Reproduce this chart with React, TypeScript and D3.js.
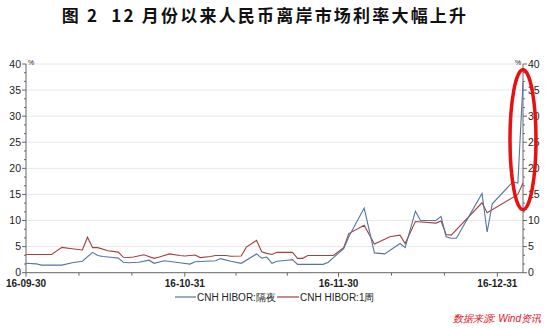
import React from 'react';
import * as d3 from 'd3';

const TITLE = '图 2  12 月份以来人民币离岸市场利率大幅上升';
const SOURCE = '数据来源: Wind资讯';
const SERIES_NAMES = ['CNH HIBOR:隔夜', 'CNH HIBOR:1周'];
const X_LABEL_DATES = ['2016-09-30', '2016-10-31', '2016-11-30', '2016-12-31'];
const X_DOMAIN = ['2016-09-30', '2017-01-05'];
const Y_TICKS = [0, 5, 10, 15, 20, 25, 30, 35, 40];

const ON_DATES = [
  '2016-09-30', '2016-10-02', '2016-10-03', '2016-10-07', '2016-10-09', '2016-10-11', '2016-10-13',
  '2016-10-14', '2016-10-15', '2016-10-17', '2016-10-18', '2016-10-19', '2016-10-20', '2016-10-22',
  '2016-10-24', '2016-10-25', '2016-10-27', '2016-10-30', '2016-11-01', '2016-11-02', '2016-11-04',
  '2016-11-06', '2016-11-07', '2016-11-09', '2016-11-11', '2016-11-14', '2016-11-15', '2016-11-16',
  '2016-11-17', '2016-11-18', '2016-11-20', '2016-11-21', '2016-11-22', '2016-11-27', '2016-11-28',
  '2016-11-29', '2016-12-01', '2016-12-02', '2016-12-05', '2016-12-07', '2016-12-09', '2016-12-12',
  '2016-12-13', '2016-12-15', '2016-12-16', '2016-12-19', '2016-12-20', '2016-12-21', '2016-12-22',
  '2016-12-23', '2016-12-28', '2016-12-29', '2016-12-30', '2017-01-03', '2017-01-04', '2017-01-05',
];
const ON_VALUES = [
  1.8, 1.7, 1.45, 1.45, 1.9, 2.2, 3.9,
  3.3, 3.1, 2.9, 2.8, 2.0, 1.9, 2.0,
  2.4, 1.8, 2.3, 1.9, 1.65, 2.1, 2.2,
  2.3, 2.7, 2.2, 1.8, 3.6, 2.8, 3.0,
  1.8, 2.2, 2.4, 2.5, 1.6, 1.6, 2.0,
  2.9, 4.6, 6.9, 12.4, 3.8, 3.6, 5.6,
  4.8, 11.8, 10.0, 10.0, 10.8, 6.9, 6.6,
  6.6, 15.2, 7.8, 13.2, 17.4, 17.2, 36.5,
];

const W1_DATES = [
  '2016-09-30', '2016-10-05', '2016-10-07', '2016-10-09', '2016-10-11', '2016-10-12', '2016-10-13',
  '2016-10-14', '2016-10-16', '2016-10-18', '2016-10-19', '2016-10-20', '2016-10-21', '2016-10-23',
  '2016-10-25', '2016-10-26', '2016-10-28', '2016-10-30', '2016-10-31', '2016-11-02', '2016-11-03',
  '2016-11-05', '2016-11-06', '2016-11-08', '2016-11-09', '2016-11-11', '2016-11-12', '2016-11-14',
  '2016-11-15', '2016-11-16', '2016-11-17', '2016-11-18', '2016-11-21', '2016-11-22', '2016-11-23',
  '2016-11-24', '2016-11-29', '2016-12-01', '2016-12-02', '2016-12-05', '2016-12-07', '2016-12-09',
  '2016-12-10', '2016-12-12', '2016-12-13', '2016-12-15', '2016-12-19', '2016-12-20', '2016-12-21',
  '2016-12-22', '2016-12-28', '2016-12-29', '2017-01-04', '2017-01-05',
];
const W1_VALUES = [
  3.5, 3.5, 4.85, 4.6, 4.35, 6.8, 4.8,
  4.8, 4.2, 3.95, 2.95, 2.9, 3.0, 3.45,
  2.75, 3.0, 3.6, 3.3, 3.2, 3.4, 2.9,
  3.1, 3.3, 3.3, 3.15, 3.2, 4.9, 6.2,
  4.0, 3.7, 3.5, 3.9, 3.9, 2.75, 2.75,
  3.3, 3.3, 4.8, 7.5, 9.1, 5.5, 6.4,
  6.9, 7.2, 5.6, 9.8, 9.5, 9.9, 7.3,
  7.2, 13.4, 11.5, 15.0, 17.2,
];

// annotation ellipse (data coords)
const HIGHLIGHT = { date: '2017-01-05', center: 25.5, halfSpan: 13.4 };

const W = 545;
const H = 328;
const LEFT = 26;
const RIGHT = 523;
const TOP = 64;
const BOTTOM = 272.7;

const BLUE = '#52769e';
const RED = '#a0413f';
const AXIS = '#666';
const FONT = '"Liberation Sans", Arial, sans-serif';
const CJK = '"Noto Sans CJK SC", sans-serif';

export default function App() {
  const parse = d3.timeParse('%Y-%m-%d');
  const x = d3.scaleTime().domain(X_DOMAIN.map((d) => parse(d) as Date)).range([LEFT, RIGHT]);
  const y = d3.scaleLinear().domain([0, 40]).range([BOTTOM, TOP]);

  const line = d3
    .line<[Date, number]>()
    .x((d) => x(d[0]))
    .y((d) => y(d[1]));

  const onData: [Date, number][] = ON_DATES.map((d, i) => [parse(d) as Date, ON_VALUES[i]]);
  const w1Data: [Date, number][] = W1_DATES.map((d, i) => [parse(d) as Date, W1_VALUES[i]]);

  const labelDates = X_LABEL_DATES.map((d) => parse(d) as Date);
  const minorX: Date[] = [];
  for (let i = 0; i < labelDates.length - 1; i++) {
    const a = labelDates[i].getTime();
    const b = labelDates[i + 1].getTime();
    minorX.push(new Date(a + (b - a) / 3), new Date(a + (2 * (b - a)) / 3));
  }
  const minorY: number[] = [];
  for (let i = 0; i < Y_TICKS.length - 1; i++) {
    const a = Y_TICKS[i];
    const b = Y_TICKS[i + 1];
    minorY.push(a + (b - a) / 3, a + (2 * (b - a)) / 3);
  }
  const fmt = d3.timeFormat('%y-%m-%d');

  const hx = x(parse(HIGHLIGHT.date) as Date);
  const hy = y(HIGHLIGHT.center);
  const hry = y(0) - y(HIGHLIGHT.halfSpan);

  return (
    <svg width={W} height={H} style={{ position: 'absolute', left: 0, top: 0, background: '#fff' }}>
      <rect x={0} y={0} width={W} height={H} fill="#fff" />
      <text
        x={265}
        y={22}
        textAnchor="middle"
        fontFamily={CJK}
        fontWeight="bold"
        fontSize={17}
        letterSpacing={2.2}
        fill="#111"
        style={{ whiteSpace: 'pre' }}
      >
        {TITLE}
      </text>

      {/* grid */}
      {Y_TICKS.filter((t) => t > 0).map((t) => (
        <line key={'g' + t} x1={LEFT} x2={RIGHT} y1={y(t)} y2={y(t)} stroke="#e8e8e8" strokeWidth={1} />
      ))}

      {/* left axis */}
      <line x1={LEFT} x2={LEFT} y1={TOP} y2={BOTTOM} stroke={AXIS} />
      {Y_TICKS.map((t) => (
        <g key={'l' + t}>
          <line x1={LEFT - 4} x2={LEFT} y1={y(t)} y2={y(t)} stroke={AXIS} />
          <text x={LEFT - 5} y={y(t) + 3.5} textAnchor="end" fontFamily={FONT} fontSize={10.5} fill="#222">
            {t}
          </text>
        </g>
      ))}
      {minorY.map((t, i) => (
        <line key={'lm' + i} x1={LEFT - 2} x2={LEFT} y1={y(t)} y2={y(t)} stroke={AXIS} />
      ))}
      <text x={LEFT + 2} y={TOP + 1} fontFamily={FONT} fontSize={7} fill="#222">%</text>

      {/* right axis */}
      <line x1={RIGHT} x2={RIGHT} y1={TOP} y2={BOTTOM} stroke={AXIS} />
      {Y_TICKS.map((t) => (
        <g key={'r' + t}>
          <line x1={RIGHT} x2={RIGHT + 4} y1={y(t)} y2={y(t)} stroke={AXIS} />
          <text x={RIGHT + 5} y={y(t) + 3.5} textAnchor="start" fontFamily={FONT} fontSize={10.5} fill="#222">
            {t}
          </text>
        </g>
      ))}
      {minorY.map((t, i) => (
        <line key={'rm' + i} x1={RIGHT} x2={RIGHT + 2} y1={y(t)} y2={y(t)} stroke={AXIS} />
      ))}
      <text x={RIGHT - 8} y={TOP + 1} fontFamily={FONT} fontSize={7} fill="#222">%</text>

      {/* x axis */}
      <line x1={LEFT} x2={RIGHT} y1={BOTTOM} y2={BOTTOM} stroke={AXIS} />
      {labelDates.map((d, i) => (
        <g key={'x' + i}>
          <line x1={x(d)} x2={x(d)} y1={BOTTOM} y2={BOTTOM + 4} stroke={AXIS} />
          <text x={x(d)} y={BOTTOM + 14} textAnchor="middle" fontFamily={FONT} fontWeight="bold" fontSize={10} fill="#222">
            {fmt(d)}
          </text>
        </g>
      ))}
      {minorX.map((d, i) => (
        <line key={'xm' + i} x1={x(d)} x2={x(d)} y1={BOTTOM} y2={BOTTOM + 3} stroke={AXIS} />
      ))}

      {/* series */}
      <path d={line(w1Data) || ''} fill="none" stroke={RED} strokeWidth={1.1} />
      <path d={line(onData) || ''} fill="none" stroke={BLUE} strokeWidth={1.1} />

      {/* highlight ellipse */}
      <ellipse cx={hx} cy={hy} rx={13} ry={hry} fill="none" stroke="#e81010" strokeWidth={3.5} />

      {/* legend */}
      <line x1={175} x2={196} y1={297} y2={297} stroke={BLUE} strokeWidth={1.2} />
      <text x={197} y={301} fontFamily={FONT} fontSize={10} fill="#222">{SERIES_NAMES[0]}</text>
      <line x1={277} x2={299} y1={297} y2={297} stroke={RED} strokeWidth={1.2} />
      <text x={300} y={301} fontFamily={FONT} fontSize={10} fill="#222">{SERIES_NAMES[1]}</text>

      {/* source */}
      <text x={541} y={322} textAnchor="end" fontFamily={FONT} fontStyle="italic" fontSize={10} fill="#e0141c">
        {SOURCE}
      </text>
    </svg>
  );
}
